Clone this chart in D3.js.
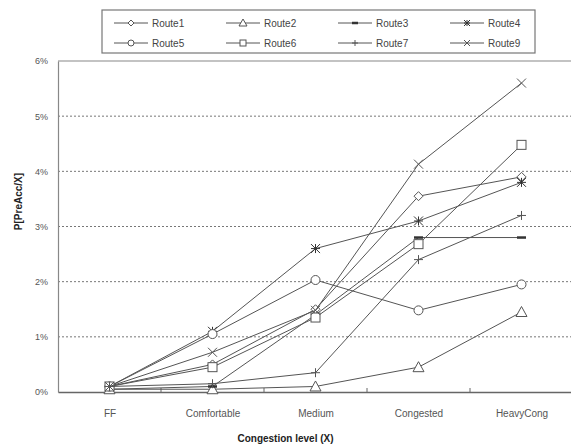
<!DOCTYPE html>
<html>
<head>
<meta charset="utf-8">
<script src="https://cdn.jsdelivr.net/npm/d3@7"></script>
<style>
  body { margin: 0; background: #fff; }
  svg { display: block; font-family: "Liberation Sans", Arial, sans-serif; }
</style>
</head>
<body>
<div id="chart"></div>
<script>
// categories on the x axis
const levels = ["FF", "Comfortable", "Medium", "Congested", "HeavyCong"];
const yTicks = [0, 1, 2, 3, 4, 5, 6];

// values (%)
const route1 = [0.1, 0.5, 1.5, 3.55, 3.9];
const route2 = [0.05, 0.05, 0.1, 0.45, 1.45];
const route3 = [0.05, 0.1, 1.4, 2.8, 2.8];
const route4 = [0.1, 1.1, 2.6, 3.1, 3.8];
const route5 = [0.1, 1.05, 2.03, 1.48, 1.95];
const route6 = [0.1, 0.45, 1.35, 2.68, 4.48];
const route7 = [0.1, 0.15, 0.35, 2.4, 3.2];
const route9 = [0.1, 0.72, 1.48, 4.13, 5.6];

const routeNames = ["Route1", "Route2", "Route3", "Route4", "Route5", "Route6", "Route7", "Route9"];
const routeValues = [route1, route2, route3, route4, route5, route6, route7, route9];
const routeMarks = ["diamond", "triangle", "dash", "asterisk", "circle", "square", "plus", "cross"];

const series = routeNames.map((name, i) => ({
  name: name,
  mark: routeMarks[i],
  values: routeValues[i].map((v, j) => ({ level: levels[j], value: v }))
}));

const W = 571, H = 445;
const margin = { top: 61, right: -2, bottom: 53, left: 58 };
const width = W - margin.left - margin.right;
const height = H - margin.top - margin.bottom;
const ink = "#555";

const svg = d3.select("#chart").append("svg")
  .attr("width", W).attr("height", H);

const XScale = d3.scalePoint().domain(levels).range([0, width]).padding(0.5);
const YScale = d3.scaleLinear().domain([0, 6]).range([height, 0]);

const g = svg.append("g")
  .attr("transform", "translate(" + margin.left + "," + margin.top + ")");

// dotted gridlines
g.selectAll(".grid")
  .data(yTicks.filter(t => t > 0 && t < 6))
  .enter().append("line")
  .attr("x1", 0).attr("x2", width)
  .attr("y1", d => YScale(d)).attr("y2", d => YScale(d))
  .attr("stroke", "#777").attr("stroke-width", 1)
  .attr("stroke-dasharray", "2,2");

// top frame line
g.append("line")
  .attr("x1", 0).attr("x2", width)
  .attr("y1", YScale(6)).attr("y2", YScale(6))
  .attr("stroke", "#888").attr("stroke-width", 1.2);

// y axis
const YAxis = d3.axisLeft(YScale).tickValues(yTicks).tickSize(0).tickPadding(10)
  .tickFormat(d => d + "%");
const yAxisG = g.append("g").call(YAxis);
yAxisG.select(".domain").attr("stroke", "#888").attr("stroke-width", 1.2);
yAxisG.selectAll("text").attr("font-size", 9).attr("fill", "#555");

// x axis with ticks between categories
const step = XScale.step();
const XAxis = d3.axisBottom(XScale).tickSize(0).tickPadding(18);
const xAxisG = g.append("g").attr("transform", "translate(0," + height + ")").call(XAxis);
xAxisG.select(".domain").attr("stroke", "#666").attr("stroke-width", 1.5);
xAxisG.selectAll("text").attr("font-size", 10).attr("fill", "#555");
g.selectAll(".xsep")
  .data(levels.slice(1))
  .enter().append("line")
  .attr("x1", d => XScale(d) - step / 2).attr("x2", d => XScale(d) - step / 2)
  .attr("y1", height).attr("y2", height - 4)
  .attr("stroke", "#666");

// axis titles
g.append("text")
  .attr("x", (width - 60) / 2).attr("y", height + 50)
  .attr("text-anchor", "middle")
  .attr("font-size", 10).attr("font-weight", "bold").attr("fill", "#222")
  .text("Congestion level (X)");
g.append("text")
  .attr("transform", "rotate(-90)")
  .attr("x", -(height / 2) + 25).attr("y", -36)
  .attr("text-anchor", "middle")
  .attr("font-size", 10).attr("font-weight", "bold").attr("fill", "#222")
  .text("P[PreAcc/X]");

// marker drawing
function drawMark(sel, type, s) {
  if (type === "diamond") {
    sel.append("path").attr("d", `M0,${-s}L${s},0L0,${s}L${-s},0Z`).attr("fill", "#fff");
  } else if (type === "triangle") {
    sel.append("path").attr("d", `M0,${-s - 1}L${s + 1},${s}L${-s - 1},${s}Z`).attr("fill", "#fff");
  } else if (type === "dash") {
    sel.append("path").attr("d", `M${-s},0L${s},0`).attr("stroke-width", 2.5).attr("stroke", "#333");
  } else if (type === "asterisk") {
    sel.append("path").attr("d", `M${-s},${-s}L${s},${s}M${-s},${s}L${s},${-s}M0,${-s}L0,${s}M${-s},0L${s},0`)
      .attr("stroke", "#333");
  } else if (type === "circle") {
    sel.append("circle").attr("r", s).attr("fill", "#fff");
  } else if (type === "square") {
    sel.append("rect").attr("x", -s).attr("y", -s).attr("width", 2 * s).attr("height", 2 * s).attr("fill", "#fff");
  } else if (type === "plus") {
    sel.append("path").attr("d", `M0,${-s}L0,${s}M${-s},0L${s},0`);
  } else if (type === "cross") {
    sel.append("path").attr("d", `M${-s},${-s}L${s},${s}M${-s},${s}L${s},${-s}`);
  }
}

const Line = d3.line()
  .x(d => XScale(d.level))
  .y(d => YScale(d.value));

const lines = g.append("g").attr("class", "lines");
const groups = lines.selectAll("g").data(series).enter().append("g");
groups.append("path")
  .attr("d", d => Line(d.values))
  .attr("fill", "none").attr("stroke", ink).attr("stroke-width", 1);
groups.each(function (d) {
  const grp = d3.select(this);
  d.values.forEach(p => {
    const m = grp.append("g")
      .attr("transform", "translate(" + XScale(p.level) + "," + YScale(p.value) + ")")
      .attr("stroke", ink).attr("fill", "none").attr("stroke-width", 1);
    drawMark(m, d.mark, 4.5);
  });
});

// legend
const legend = svg.append("g").attr("transform", "translate(102,10)");
legend.append("rect")
  .attr("x", 0).attr("y", 0).attr("width", 433).attr("height", 43)
  .attr("fill", "#fff").attr("stroke", "#777").attr("stroke-width", 1.2);
const items = legend.selectAll(".item").data(series).enter().append("g")
  .attr("transform", (d, i) => "translate(" + (12 + (i % 4) * 112) + "," + (13 + Math.floor(i / 4) * 20) + ")");
items.append("line").attr("x1", 0).attr("x2", 34).attr("y1", 0).attr("y2", 0)
  .attr("stroke", ink).attr("stroke-width", 1);
items.each(function (d) {
  const m = d3.select(this).append("g").attr("transform", "translate(17,0)")
    .attr("stroke", ink).attr("fill", "none").attr("stroke-width", 1);
  drawMark(m, d.mark, 3);
});
items.append("text").attr("x", 38).attr("y", 3.5)
  .attr("font-size", 10).attr("fill", "#444")
  .text(d => d.name);
</script>
</body>
</html>
